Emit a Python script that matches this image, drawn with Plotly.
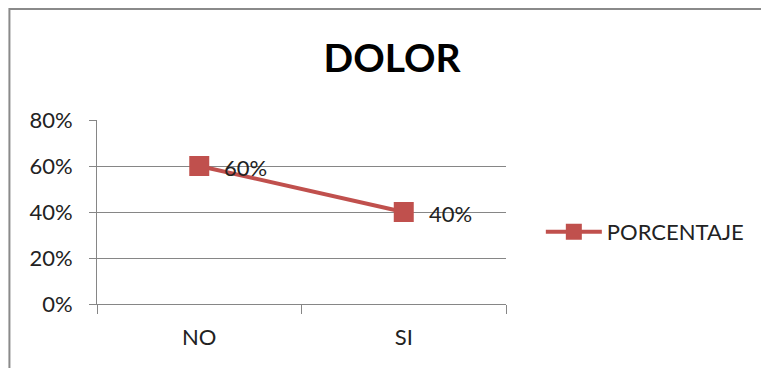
import plotly.graph_objects as go

categories = ["NO", "SI"]
porcentaje = [0.60, 0.40]
series_name = "PORCENTAJE"
y_ticks = [0, 0.2, 0.4, 0.6, 0.8]
y_tick_labels = ["0%", "20%", "40%", "60%", "80%"]

red = "#C0504D"
grid = "#868686"
font_family = "Lato, 'Open Sans', sans-serif"
text_color = "#222222"

fig = go.Figure()
fig.add_trace(go.Scatter(
    x=categories,
    y=porcentaje,
    name=series_name,
    mode="lines+markers",
    line=dict(color=red, width=4),
    marker=dict(symbol="square", size=20, color=red),
))

# value labels to the right of each marker
for cat, val in zip(categories, porcentaje):
    fig.add_annotation(
        x=cat, y=val, text=f"{val:.0%}", showarrow=False,
        xanchor="left", yanchor="middle", xshift=23, yshift=-1,
        font=dict(family=font_family, size=22, color=text_color),
    )

# plot area bounds in pixels, used to place the outer frame
L, R, T, B = 97, 508, 120, 304
W, H = 761, 368
pw, ph = R - L, B - T

fig.add_shape(
    type="rect", xref="paper", yref="paper",
    x0=(9 - L) / pw, x1=(W + 20 - L) / pw,
    y0=-(H + 20 - B) / ph, y1=1 + (T - 9) / ph,
    line=dict(color="#8a8a8a", width=2), fillcolor="rgba(0,0,0,0)",
    layer="below",
)

fig.update_layout(
    width=W, height=H,
    margin=dict(l=L, r=W - R, t=T, b=H - B, pad=0),
    paper_bgcolor="white", plot_bgcolor="white",
    font=dict(family=font_family, color=text_color),
    title=dict(
        text="<b>DOLOR</b>",
        font=dict(family=font_family, size=39, color="black"),
        x=392 / W, xanchor="center",
        y=1 - 58 / H, yanchor="middle",
    ),
    showlegend=True,
    legend=dict(
        x=(543 - L) / pw, xanchor="left",
        y=(B - 232) / ph, yanchor="middle",
        itemwidth=56,
        font=dict(family=font_family, size=22, color=text_color),
        bgcolor="rgba(0,0,0,0)",
    ),
    xaxis=dict(
        type="category", range=[-0.5, 1.5],
        tickson="boundaries", ticks="outside", ticklen=9, tickcolor=grid,
        ticklabelstandoff=14,
        showline=True, linecolor=grid, linewidth=1,
        showgrid=False, zeroline=False,
        tickfont=dict(family=font_family, size=22, color=text_color),
        fixedrange=True,
    ),
    yaxis=dict(
        range=[0, 0.8], tickvals=y_ticks, ticktext=y_tick_labels,
        ticks="outside", ticklen=7, tickcolor=grid,
        ticklabelstandoff=12,
        showline=True, linecolor=grid, linewidth=1,
        showgrid=True, gridcolor=grid, gridwidth=1,
        zeroline=False,
        tickfont=dict(family=font_family, size=22, color=text_color),
        fixedrange=True,
    ),
)

fig.write_html("out.html")
